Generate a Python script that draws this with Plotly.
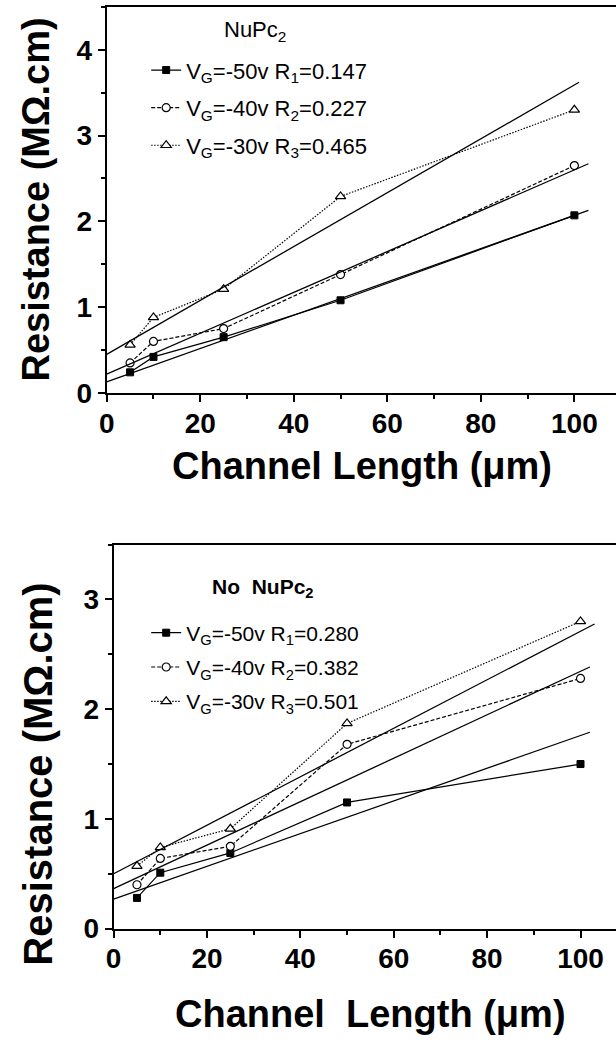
import plotly.graph_objects as go

# ---------------- data ----------------
channel_length = [5, 10, 25, 50, 100]

# With NuPc2 (top panel)
nupc_vg50 = [0.24, 0.42, 0.65, 1.08, 2.07]
nupc_vg40 = [0.35, 0.60, 0.75, 1.38, 2.65]
nupc_vg30 = [0.56, 0.88, 1.21, 2.29, 3.30]
nupc_fit_intercept = [0.13, 0.22, 0.45]
nupc_fit_slope = [0.0194, 0.0238, 0.0314]
nupc_fit_end = [103, 103, 101]
nupc_title = "NuPc<sub>2</sub>"
nupc_labels = ["V<sub>G</sub>=-50v R<sub>1</sub>=0.147",
               "V<sub>G</sub>=-40v R<sub>2</sub>=0.227",
               "V<sub>G</sub>=-30v R<sub>3</sub>=0.465"]

# Without NuPc2 (bottom panel)
no_vg50 = [0.28, 0.51, 0.69, 1.15, 1.50]
no_vg40 = [0.40, 0.64, 0.75, 1.68, 2.28]
no_vg30 = [0.57, 0.74, 0.91, 1.87, 2.80]
no_fit_intercept = [0.27, 0.365, 0.50]
no_fit_slope = [0.0149, 0.0198, 0.0221]
no_fit_end = [102, 102, 103]
no_title = "No\u00a0 NuPc<sub>2</sub>"
no_labels = ["V<sub>G</sub>=-50v R<sub>1</sub>=0.280",
             "V<sub>G</sub>=-40v R<sub>2</sub>=0.382",
             "V<sub>G</sub>=-30v R<sub>3</sub>=0.501"]

x_ticks = [0, 20, 40, 60, 80, 100]
y_title = "Resistance (M\u03a9.cm)"

# ---------------- styles ----------------
FONT = "Liberation Sans, Arial, sans-serif"
markers = [dict(symbol="square", size=7, color="black", line=dict(color="black", width=1)),
           dict(symbol="circle", size=8, color="white", line=dict(color="black", width=1.2)),
           dict(symbol="triangle-up", size=9, color="white", line=dict(color="black", width=1.2))]
dashes = ["solid", "4px,2px", "1.5px,1.5px"]

W, H = 616, 1051

fig = go.Figure()


def add_panel(series, labels, icpt, slope, xend, xa, ya, legend):
    for i, (ys, lab) in enumerate(zip(series, labels)):
        fig.add_trace(go.Scatter(
            x=channel_length, y=ys, mode="lines+markers", name=lab,
            line=dict(color="black", width=1.2, dash=dashes[i]),
            marker=markers[i], xaxis=xa, yaxis=ya, legend=legend,
            legendgroup=legend + str(i)))
    for b, m, xe in zip(icpt, slope, xend):
        fig.add_trace(go.Scatter(
            x=[0, xe], y=[b, b + m * xe], mode="lines",
            line=dict(color="black", width=1.3), showlegend=False,
            xaxis=xa, yaxis=ya, hoverinfo="skip"))


add_panel([nupc_vg50, nupc_vg40, nupc_vg30], nupc_labels,
          nupc_fit_intercept, nupc_fit_slope, nupc_fit_end, "x", "y", "legend")
add_panel([no_vg50, no_vg40, no_vg30], no_labels,
          no_fit_intercept, no_fit_slope, no_fit_end, "x2", "y2", "legend2")


def px_x(p):
    return p / W


def px_y(p):
    return (H - p) / H


axis_common = dict(showline=True, linecolor="black", linewidth=2, ticks="outside",
                   tickcolor="black", tickwidth=1.5, ticklen=7, showgrid=False, zeroline=False,
                   tickfont=dict(family=FONT, size=28, color="black", weight="bold"))


def ann(text, x, y, size, bold=True, angle=0):
    return dict(text=text, x=px_x(x), y=px_y(y), xref="paper", yref="paper",
                textangle=angle, showarrow=False, xanchor="center", yanchor="middle",
                font=dict(family=FONT, size=size, color="black",
                          weight="bold" if bold else "normal"))


fig.update_layout(
    width=W, height=H, margin=dict(l=0, r=0, t=0, b=0),
    paper_bgcolor="white", plot_bgcolor="white",
    xaxis=dict(domain=[px_x(100), 1], range=[0, 108.9], anchor="y", tickvals=x_ticks,
               mirror=True, ticklabelstandoff=-3,
               minor=dict(ticks="outside", ticklen=4, dtick=10, tickcolor="black"),
               **axis_common),
    yaxis=dict(domain=[px_y(399), px_y(7)], range=[0, 4.5], anchor="x", dtick=1,
               minor=dict(ticks="outside", ticklen=4, dtick=0.5, tickcolor="black"),
               **axis_common),
    xaxis2=dict(domain=[px_x(107), 1], range=[0, 107.6], anchor="y2", tickvals=x_ticks,
                mirror=True, ticklabelstandoff=-3,
                minor=dict(ticks="outside", ticklen=4, dtick=10, tickcolor="black"),
                **axis_common),
    yaxis2=dict(domain=[px_y(943), px_y(553)], range=[0, 3.5], anchor="x2", dtick=1,
                minor=dict(ticks="outside", ticklen=4, dtick=0.5, tickcolor="black"),
                **axis_common),
    legend=dict(x=px_x(140), y=px_y(50), xanchor="left", yanchor="top",
                bgcolor="rgba(0,0,0,0)", traceorder="grouped", tracegroupgap=6,
                font=dict(family=FONT, size=22, color="black")),
    legend2=dict(x=px_x(140), y=px_y(622), xanchor="left", yanchor="top",
                 bgcolor="rgba(0,0,0,0)", traceorder="grouped", tracegroupgap=4,
                 font=dict(family=FONT, size=21, color="black")),
    annotations=[
        ann(nupc_title, 250, 31, 22, bold=False),
        ann(no_title, 258, 597, 21, bold=True),
        ann(y_title, 28, 203, 38, angle=-90),
        ann("Channel Length (\u03bcm)", 359, 473, 38),
        ann(y_title, 30, 786, 40, angle=-90),
        ann("Channel\u00a0 Length (\u03bcm)", 367, 1030, 38),
    ],
)

fig.write_html("out.html", config={"displayModeBar": False},
               post_script="document.body.style.margin='0px';document.body.style.overflow='hidden';")
